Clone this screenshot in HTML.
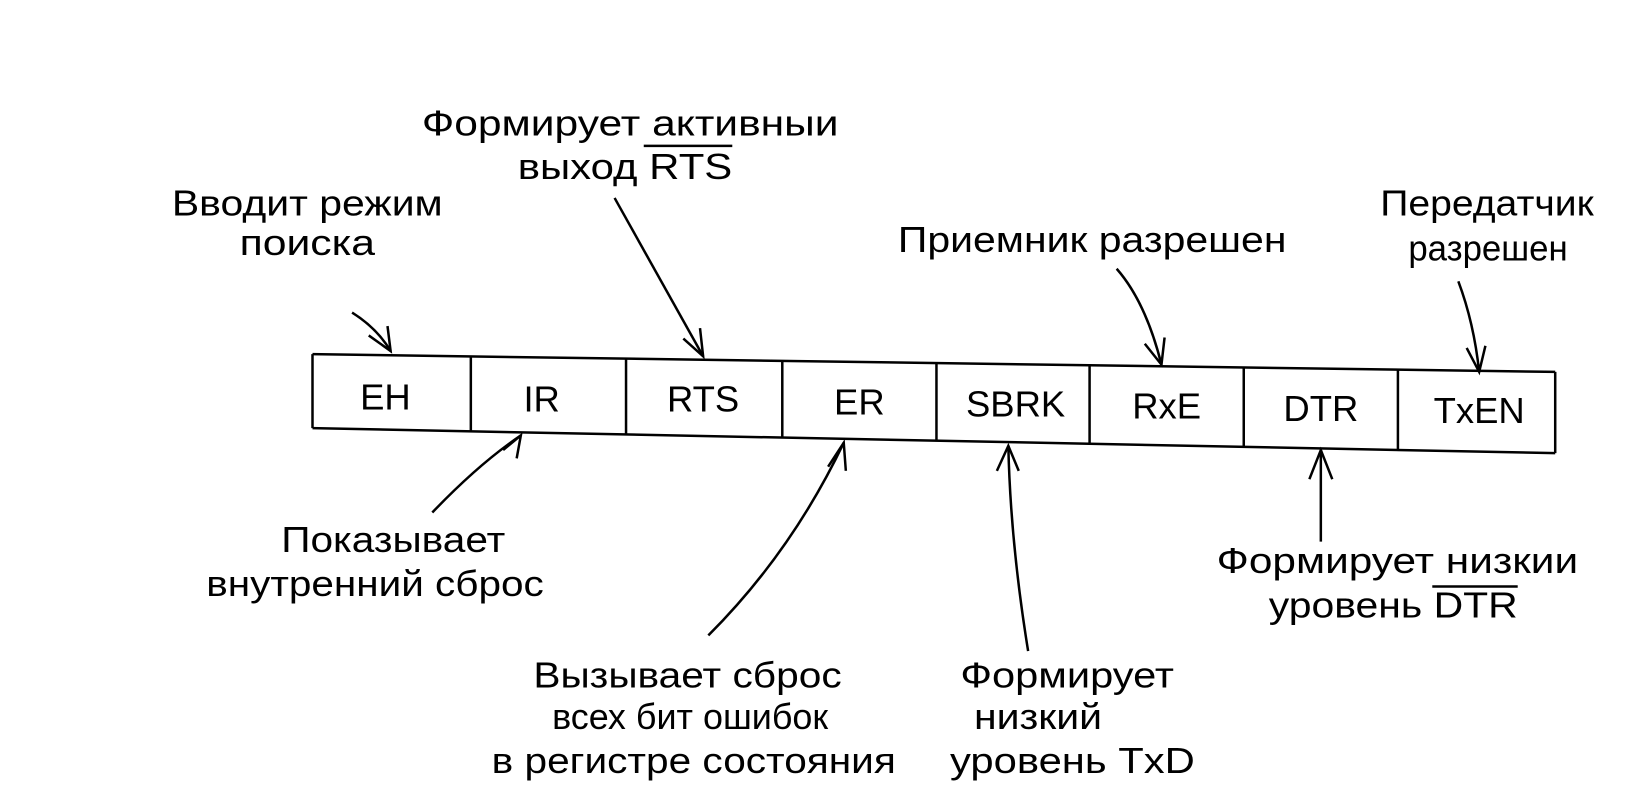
<!DOCTYPE html>
<html><head><meta charset="utf-8"><style>
html,body{margin:0;padding:0;background:#fff;}
svg{display:block;}
text{font-family:"Liberation Sans","DejaVu Sans",sans-serif;font-size:35px;fill:#000;}
</style></head><body>
<svg width="1625" height="787" viewBox="0 0 1560 755.5" xmlns="http://www.w3.org/2000/svg">
<g stroke="#000" stroke-width="2.4" fill="none">
<path d="M300,340 L1493,357"/>
<path d="M300,340 L300,411"/>
<path d="M300,411 L1493,435"/>
<path d="M1493,357 L1493,435"/>
<path d="M452,342 L452,414"/>
<path d="M601,344 L601,417"/>
<path d="M751,346 L751,420"/>
<path d="M899,348 L899,423"/>
<path d="M1046,350 L1046,426"/>
<path d="M1194,352 L1194,429"/>
<path d="M1342,355 L1342,432"/>
<path d="M338,300 Q362,315 375,337"/><path d="M354,322 L375,337 L372,313"/>
<path d="M590,190 L675,342"/><path d="M656,325 L675,342 L672,315"/>
<path d="M1072,258 Q1100,290 1115,350"/><path d="M1099,330 L1115,350 L1118,324"/>
<path d="M1400,270 Q1415,310 1420,357"/><path d="M1408,334 L1420,357 L1426,332"/>
<path d="M415,492 Q460,445 500,418"/><path d="M483,432 L500,418 L496,440"/>
<path d="M680,610 Q760,530 810,425"/><path d="M795,448 L810,425 L812,452"/>
<path d="M987,625 Q970,520 968,428"/><path d="M957,452 L968,428 L978,452"/>
<path d="M1268,520 L1268,432"/><path d="M1257,460 L1268,432 L1279,460"/>
<path d="M618,140 L703,140"/>
<path d="M1375,563 L1457,563"/>
</g>
<g text-anchor="middle">
<text x="370" y="393">EH</text>
<text x="520" y="395">IR</text>
<text x="675" y="395">RTS</text>
<text x="825" y="398">ER</text>
<text x="975" y="400">SBRK</text>
<text x="1120" y="402">RxE</text>
<text x="1268" y="404">DTR</text>
<text x="1420" y="406">TxEN</text>
</g>
<g lengthAdjust="spacingAndGlyphs">
<text x="405" y="130" textLength="400" lengthAdjust="spacingAndGlyphs">Формирует активныи</text>
<text x="497" y="172" textLength="206" lengthAdjust="spacingAndGlyphs">выход RTS</text>
<text x="165" y="207" textLength="260" lengthAdjust="spacingAndGlyphs">Вводит режим</text>
<text x="230" y="245" textLength="130" lengthAdjust="spacingAndGlyphs">поиска</text>
<text x="862" y="242" textLength="373" lengthAdjust="spacingAndGlyphs">Приемник разрешен</text>
<text x="1325" y="207" textLength="205" lengthAdjust="spacingAndGlyphs">Передатчик</text>
<text x="1352" y="250" textLength="153" lengthAdjust="spacingAndGlyphs">разрешен</text>
<text x="270" y="530" textLength="215" lengthAdjust="spacingAndGlyphs">Показывает</text>
<text x="198" y="572" textLength="324" lengthAdjust="spacingAndGlyphs">внутренний сброс</text>
<text x="512" y="660" textLength="296" lengthAdjust="spacingAndGlyphs">Вызывает сброс</text>
<text x="530" y="700" textLength="265" lengthAdjust="spacingAndGlyphs">всех бит ошибок</text>
<text x="472" y="742" textLength="388" lengthAdjust="spacingAndGlyphs">в регистре состояния</text>
<text x="922" y="660" textLength="205" lengthAdjust="spacingAndGlyphs">Формирует</text>
<text x="935" y="700" textLength="123" lengthAdjust="spacingAndGlyphs">низкий</text>
<text x="912" y="742" textLength="235" lengthAdjust="spacingAndGlyphs">уровень TxD</text>
<text x="1168" y="550" textLength="347" lengthAdjust="spacingAndGlyphs">Формирует низкии</text>
<text x="1218" y="593" textLength="239" lengthAdjust="spacingAndGlyphs">уровень DTR</text>
</g>
</svg>
</body></html>
